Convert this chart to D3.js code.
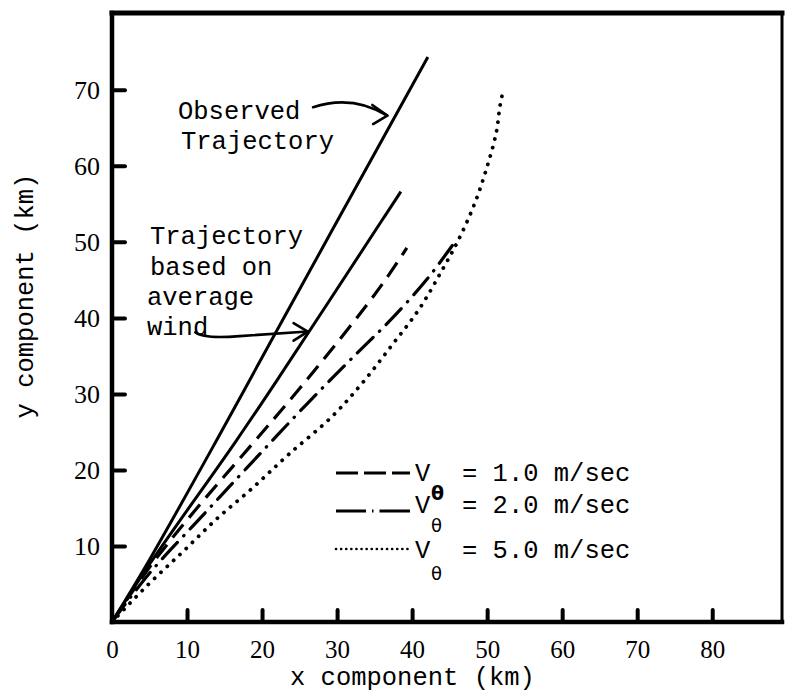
<!DOCTYPE html>
<html>
<head>
<meta charset="utf-8">
<script src="https://cdn.jsdelivr.net/npm/d3@7"></script>
<style>
  html, body { margin: 0; padding: 0; background: #fff; }
  svg { display: block; }
  text { fill: #000; }
</style>
</head>
<body>
<svg id="chart" width="785" height="692"></svg>
<script>
// Axis ticks (km)
const xTicks = [0, 10, 20, 30, 40, 50, 60, 70, 80];
const yTicks = [10, 20, 30, 40, 50, 60, 70];

// Trajectories, x / y components in km
const observedX = [0, 5, 14, 21, 30, 42.1];
const observedY = [0, 8.2, 24, 36.6, 52.7, 74.3];

const averageWindX = [0, 5, 16.6, 22.4, 36.1, 38.5];
const averageWindY = [0, 7.6, 23.9, 32.4, 53.0, 56.6];

const v1X = [0, 5, 11, 18.6, 25, 31.5, 36, 39.3];
const v1Y = [0, 7.2, 14.6, 23.3, 30.7, 38.6, 44.4, 49.2];

const v2X = [0, 5, 11.7, 18, 26.1, 32.7, 37.1, 42, 45.7];
const v2Y = [0, 6.4, 13.6, 20.3, 28.8, 35.4, 39.7, 45.1, 50];

const v5X = [0, 4.8, 9.5, 14, 18.7, 23.5, 29.3, 33.5, 37.3, 40.9, 43.9, 46.3, 48.4, 50, 51.2, 51.7, 52];
const v5Y = [0, 4.9, 9.3, 13.6, 17.6, 22, 27, 31.6, 36.4, 41.1, 46.1, 50.5, 55.2, 59.9, 64.3, 67.8, 69.3];

// Legend values (m/sec)
const legendValues = ["1.0", "2.0", "5.0"];

// ---- layout ----
const svg = d3.select("#chart");
const mono = "'Liberation Mono', 'DejaVu Sans Mono', monospace";
const serif = "'Liberation Serif', 'DejaVu Serif', serif";

const x = d3.scaleLinear().domain([0, 89.3]).range([112, 782]);
const y = d3.scaleLinear().domain([0, 80.1]).range([622, 13]);

// frame
const frame = svg.append("g").attr("stroke", "#000").attr("stroke-linecap", "square");
frame.append("line").attr("x1", x(0)).attr("x2", x(89.3)).attr("y1", y(80.1)).attr("y2", y(80.1)).attr("stroke-width", 5);
frame.append("line").attr("x1", x(0)).attr("x2", x(0)).attr("y1", y(80.1)).attr("y2", y(0)).attr("stroke-width", 4.5);
frame.append("line").attr("x1", x(0)).attr("x2", x(89.3)).attr("y1", y(0)).attr("y2", y(0)).attr("stroke-width", 4.5);
frame.append("line").attr("x1", x(89.3)).attr("x2", x(89.3)).attr("y1", y(80.1)).attr("y2", y(0)).attr("stroke-width", 3);

// axes (inward ticks)
const xAxis = svg.append("g")
  .attr("transform", `translate(0,${y(0)})`)
  .call(d3.axisBottom(x).tickValues(xTicks).tickSize(-12).tickPadding(18).tickFormat(d3.format("d")));
const yAxis = svg.append("g")
  .attr("transform", `translate(${x(0)},0)`)
  .call(d3.axisLeft(y).tickValues(yTicks).tickSize(-13).tickPadding(12).tickFormat(d3.format("d")));

[xAxis, yAxis].forEach(g => {
  g.select(".domain").remove();
  g.selectAll(".tick line").attr("stroke", "#000").attr("stroke-width", 4).attr("stroke-linecap", "round");
  g.selectAll(".tick text").attr("fill", "#000").attr("font-family", serif);
});
xAxis.selectAll(".tick text").attr("font-size", 25);
yAxis.selectAll(".tick text").attr("font-size", 26);
xAxis.selectAll(".tick").filter(d => d === 0).select("line").remove();

// axis titles
svg.append("text")
  .attr("x", 290).attr("y", 685)
  .attr("font-family", mono).attr("font-size", 25.5)
  .text("x component (km)");
svg.append("text")
  .attr("transform", "translate(33,296) rotate(-90)")
  .attr("text-anchor", "middle")
  .attr("font-family", mono).attr("font-size", 25.5)
  .text("y component (km)");

// trajectories
const series = [
  { xs: observedX, ys: observedY, width: 3, dash: null, cap: "butt" },
  { xs: averageWindX, ys: averageWindY, width: 3, dash: null, cap: "butt" },
  { xs: v1X, ys: v1Y, width: 3.2, dash: "17 9", cap: "butt" },
  { xs: v2X, ys: v2Y, width: 3.2, dash: "22 9 0.5 9", cap: "round" },
  { xs: v5X, ys: v5Y, width: 3.8, dash: "0.1 8.6", cap: "round" }
];

const line = d3.line()
  .x(d => x(d[0]))
  .y(d => y(d[1]))
  .curve(d3.curveCatmullRom.alpha(0.5));

series.forEach(s => {
  const pts = s.xs.map((v, i) => [v, s.ys[i]]);
  svg.append("path")
    .datum(pts)
    .attr("d", line)
    .attr("fill", "none")
    .attr("stroke", "#000")
    .attr("stroke-width", s.width)
    .attr("stroke-linecap", s.cap)
    .attr("stroke-linejoin", "round")
    .attr("stroke-dasharray", s.dash);
});

// annotations
const note = svg.append("g").attr("font-family", mono).attr("font-size", 25.5);
note.append("text").attr("x", 178).attr("y", 119).text("Observed");
note.append("text").attr("x", 181).attr("y", 149).text("Trajectory");
note.append("text").attr("x", 150).attr("y", 244).text("Trajectory");
note.append("text").attr("x", 150).attr("y", 275).text("based on");
note.append("text").attr("x", 147).attr("y", 305).text("average");
note.append("text").attr("x", 147).attr("y", 335).text("wind");

const arrows = svg.append("g")
  .attr("fill", "none").attr("stroke", "#000")
  .attr("stroke-width", 2.6).attr("stroke-linecap", "round").attr("stroke-linejoin", "round");

// arrow pointing at the observed trajectory
arrows.append("path")
  .attr("d", `M${x(26.8)},${y(67.7)} Q${x(32)},${y(69.4)} ${x(36.7)},${y(66.6)}`);
arrows.append("path")
  .attr("d", `M${x(34.7)},${y(68.0)} L${x(36.7)},${y(66.6)} L${x(34.8)},${y(65.5)}`);

// arrow pointing at the average-wind trajectory
arrows.append("path")
  .attr("d", `M${x(11.1)},${y(38.1)} Q${x(12.2)},${y(37.2)} ${x(17)},${y(37.6)} L${x(26.1)},${y(38.2)}`);
arrows.append("path")
  .attr("d", `M${x(24.2)},${y(39.3)} L${x(26.1)},${y(38.2)} L${x(24.2)},${y(37.0)}`);

// legend
const legendRows = [
  { ly: 473, ty: 481, dash: "22 6", width: 3.2, cap: "butt", thetaY: 500, bold: true },
  { ly: 511, ty: 513, dash: "30 6 1.5 6 40", width: 3.2, cap: "butt", thetaY: 532, bold: false },
  { ly: 549, ty: 558, dash: "0.1 5", width: 2.6, cap: "round", thetaY: 580, bold: false }
];
const legend = svg.append("g");
legendRows.forEach((r, i) => {
  legend.append("line")
    .attr("x1", 336).attr("x2", 410).attr("y1", r.ly).attr("y2", r.ly)
    .attr("stroke", "#000").attr("stroke-width", r.width)
    .attr("stroke-linecap", r.cap).attr("stroke-dasharray", r.dash);
  legend.append("text")
    .attr("x", 415).attr("y", r.ty)
    .attr("font-family", mono).attr("font-size", 25.5)
    .text("V");
  legend.append("text")
    .attr("x", 431).attr("y", r.thetaY)
    .attr("font-family", "'DejaVu Sans', sans-serif")
    .attr("font-size", r.bold ? 19 : 18)
    .attr("font-weight", r.bold ? "bold" : "normal")
    .text("\u03B8");
  legend.append("text")
    .attr("x", 462).attr("y", r.ty)
    .attr("font-family", mono).attr("font-size", 25.5)
    .text(`= ${legendValues[i]} m/sec`);
});
</script>
</body>
</html>
